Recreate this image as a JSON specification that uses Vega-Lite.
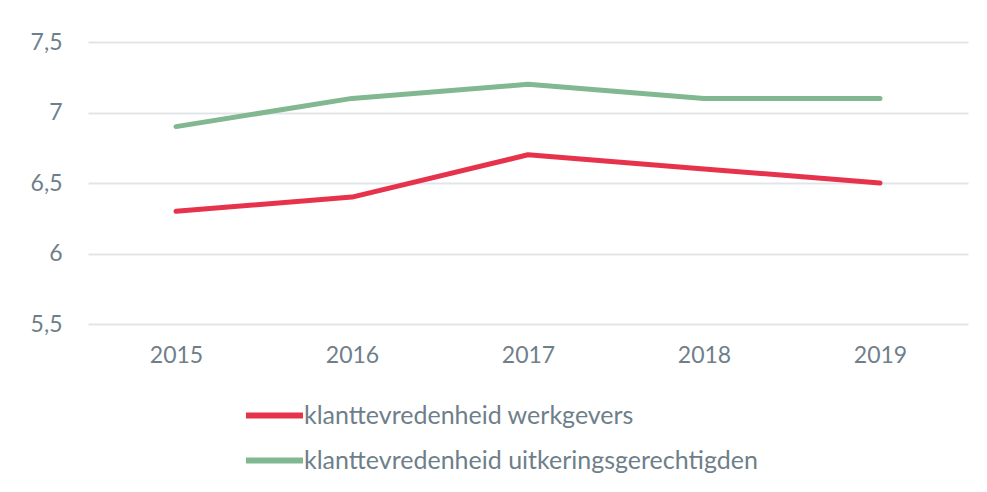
{
  "$schema": "https://vega.github.io/schema/vega-lite/v6.json",
  "width": 880,
  "height": 282,
  "autosize": {"type": "none"},
  "padding": {"left": 88, "top": 42, "right": 19, "bottom": 168},
  "background": "white",
  "config": {
    "font": "Lato",
    "view": {"stroke": null}
  },
  "data": {
    "values": [
      {"jaar": "2015", "reeks": "klanttevredenheid werkgevers", "score": 6.3},
      {"jaar": "2016", "reeks": "klanttevredenheid werkgevers", "score": 6.4},
      {"jaar": "2017", "reeks": "klanttevredenheid werkgevers", "score": 6.7},
      {"jaar": "2018", "reeks": "klanttevredenheid werkgevers", "score": 6.6},
      {"jaar": "2019", "reeks": "klanttevredenheid werkgevers", "score": 6.5},
      {"jaar": "2015", "reeks": "klanttevredenheid uitkeringsgerechtigden", "score": 6.9},
      {"jaar": "2016", "reeks": "klanttevredenheid uitkeringsgerechtigden", "score": 7.1},
      {"jaar": "2017", "reeks": "klanttevredenheid uitkeringsgerechtigden", "score": 7.2},
      {"jaar": "2018", "reeks": "klanttevredenheid uitkeringsgerechtigden", "score": 7.1},
      {"jaar": "2019", "reeks": "klanttevredenheid uitkeringsgerechtigden", "score": 7.1}
    ]
  },
  "mark": {"type": "line", "strokeWidth": 5, "strokeCap": "round", "strokeJoin": "round"},
  "encoding": {
    "x": {
      "field": "jaar",
      "type": "ordinal",
      "scale": {"type": "point", "padding": 0.5},
      "axis": {
        "title": null,
        "labelAngle": 0,
        "domain": false,
        "ticks": false,
        "grid": false,
        "labelFontSize": 23,
        "labelColor": "#6e7f8a",
        "labelPadding": 20
      }
    },
    "y": {
      "field": "score",
      "type": "quantitative",
      "scale": {"domain": [5.5, 7.5], "nice": false, "zero": false},
      "axis": {
        "title": null,
        "values": [5.5, 6, 6.5, 7, 7.5],
        "labelExpr": "replace(format(datum.value, '~g'), '.', ',')",
        "domain": false,
        "ticks": false,
        "grid": true,
        "gridColor": "#e1e5e7",
        "gridWidth": 2,
        "labelFontSize": 23,
        "labelColor": "#6e7f8a",
        "labelPadding": 26
      }
    },
    "color": {
      "field": "reeks",
      "type": "nominal",
      "scale": {
        "domain": ["klanttevredenheid werkgevers", "klanttevredenheid uitkeringsgerechtigden"],
        "range": ["#e6334b", "#82b891"]
      },
      "legend": {
        "title": null,
        "orient": "none",
        "legendX": 155,
        "legendY": 342,
        "direction": "vertical",
        "symbolType": "stroke",
        "symbolSize": 3249,
        "symbolStrokeWidth": 6,
        "labelFontSize": 25,
        "labelColor": "#6e7f8a",
        "labelOffset": -2,
        "labelLimit": 0,
        "rowPadding": 0
      }
    }
  }
}
